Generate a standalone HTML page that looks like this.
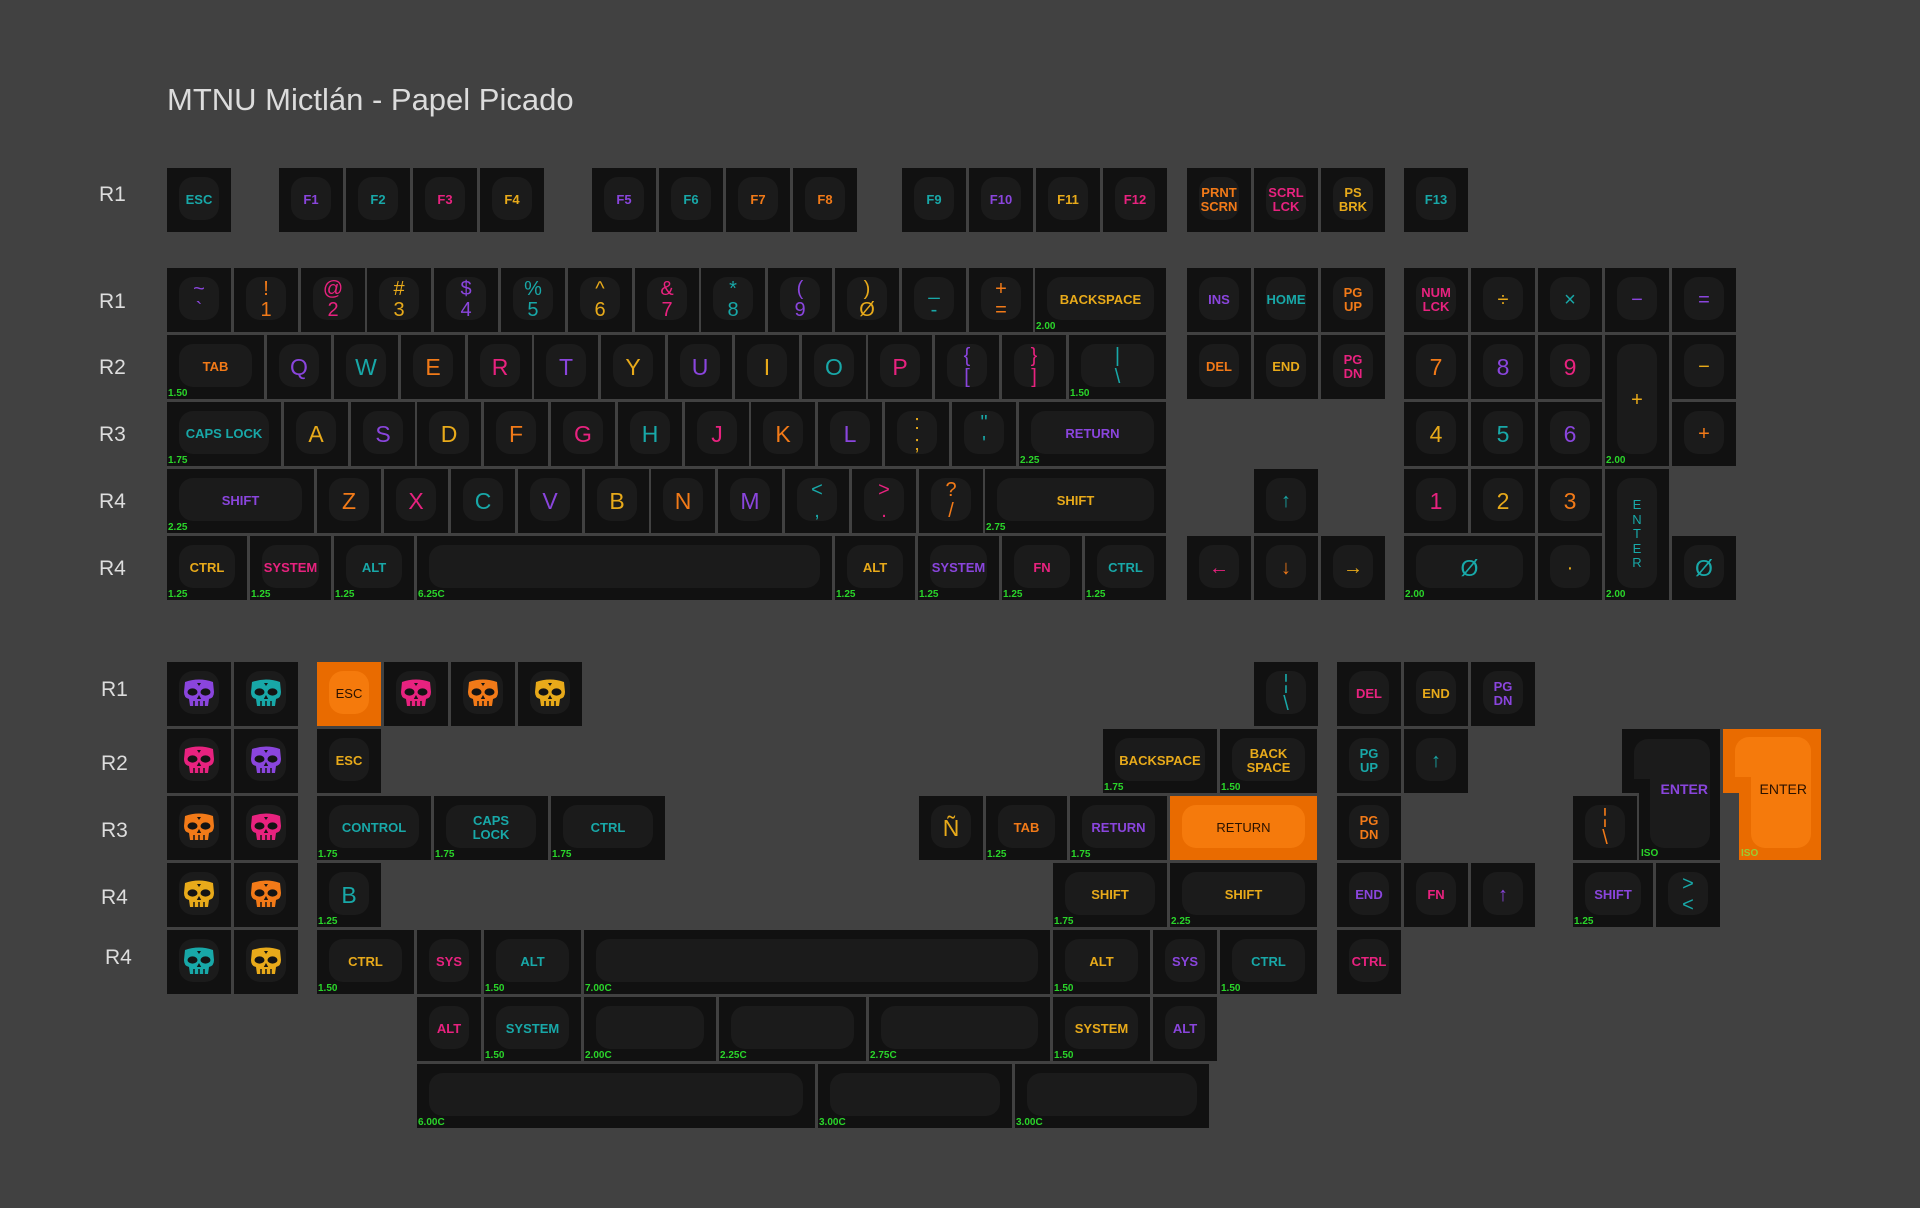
<!DOCTYPE html>
<html><head><meta charset="utf-8"><style>
body{margin:0;width:1920px;height:1208px;background:#414141;position:relative;overflow:hidden;font-family:"Liberation Sans",sans-serif}
.k{position:absolute;width:64px;height:64px;background:#111;display:flex;align-items:center;justify-content:center;text-align:center;font-size:13px;font-weight:bold;line-height:1.05}
.k::before{content:"";position:absolute;left:12px;right:12px;top:9px;bottom:12px;background:#1b1b1b;border-radius:14px}
.k b{position:relative;font-weight:inherit}
.k i{position:absolute;left:1px;bottom:0;font-style:normal;font-size:10px;color:#2ad52a;font-weight:bold;line-height:1}
.L{font-size:23px;font-weight:normal}
.N{font-size:20px;font-weight:normal;line-height:1.05}
.T{color:#18a8a8}.P{color:#8a45dd}.K{color:#e8227f}.O{color:#f27a18}.Y{color:#e8aa1a}
.OB{background:#e96b00;color:#2a1200;font-weight:normal}.OB::before{background:#f57a0c}
.h{height:131px}
.lab{position:absolute;color:#ddd;font-size:21px;transform:translateY(-50%)}
.sk{position:relative}
</style></head><body>
<svg width="0" height="0" style="position:absolute"><symbol id="s" viewBox="0 0 36 32"><path fill="currentColor" d="M4 4 Q18 -1 32 4 L33 14 Q33 20 28 21 L27 28 L9 28 L8 21 Q3 20 3 14 Z"/><ellipse cx="11.5" cy="14" rx="5" ry="3.6" fill="#141414"/><ellipse cx="24.5" cy="14" rx="5" ry="3.6" fill="#141414"/><path d="M18 17 l-2.2 4 h4.4z" fill="#141414"/><path d="M13 23v5M18 23v5M23 23v5" stroke="#141414" stroke-width="1.5"/><path d="M16 5h4l-2 3z" fill="#141414"/></symbol></svg>
<div style="position:absolute;left:167px;top:82px;font-size:31px;color:#dcdcdc">MTNU Mictlán - Papel Picado</div>

<div class="lab" style="left:99px;top:195px">R1</div>
<div class="lab" style="left:99px;top:302px">R1</div>
<div class="lab" style="left:99px;top:368px">R2</div>
<div class="lab" style="left:99px;top:435px">R3</div>
<div class="lab" style="left:99px;top:502px">R4</div>
<div class="lab" style="left:99px;top:569px">R4</div>
<div class="lab" style="left:101px;top:690px">R1</div>
<div class="lab" style="left:101px;top:764px">R2</div>
<div class="lab" style="left:101px;top:831px">R3</div>
<div class="lab" style="left:101px;top:898px">R4</div>
<div class="lab" style="left:105px;top:958px">R4</div>

<!-- Fn row -->
<div class="k T" style="left:167px;top:168px"><b>ESC</b></div>
<div class="k P" style="left:279px;top:168px"><b>F1</b></div>
<div class="k T" style="left:346px;top:168px"><b>F2</b></div>
<div class="k K" style="left:413px;top:168px"><b>F3</b></div>
<div class="k Y" style="left:480px;top:168px"><b>F4</b></div>
<div class="k P" style="left:592px;top:168px"><b>F5</b></div>
<div class="k T" style="left:659px;top:168px"><b>F6</b></div>
<div class="k O" style="left:726px;top:168px"><b>F7</b></div>
<div class="k O" style="left:793px;top:168px"><b>F8</b></div>
<div class="k T" style="left:902px;top:168px"><b>F9</b></div>
<div class="k P" style="left:969px;top:168px"><b>F10</b></div>
<div class="k Y" style="left:1036px;top:168px"><b>F11</b></div>
<div class="k K" style="left:1103px;top:168px"><b>F12</b></div>
<div class="k O" style="left:1187px;top:168px"><b>PRNT<br>SCRN</b></div>
<div class="k K" style="left:1254px;top:168px"><b>SCRL<br>LCK</b></div>
<div class="k Y" style="left:1321px;top:168px"><b>PS<br>BRK</b></div>
<div class="k T" style="left:1404px;top:168px"><b>F13</b></div>

<!-- Number row -->
<div class="k P N" style="left:167px;top:268px"><b>~<br>`</b></div>
<div class="k O N" style="left:234px;top:268px"><b>!<br>1</b></div>
<div class="k K N" style="left:301px;top:268px"><b>@<br>2</b></div>
<div class="k Y N" style="left:367px;top:268px"><b>#<br>3</b></div>
<div class="k P N" style="left:434px;top:268px"><b>$<br>4</b></div>
<div class="k T N" style="left:501px;top:268px"><b>%<br>5</b></div>
<div class="k Y N" style="left:568px;top:268px"><b>^<br>6</b></div>
<div class="k K N" style="left:635px;top:268px"><b>&amp;<br>7</b></div>
<div class="k T N" style="left:701px;top:268px"><b>*<br>8</b></div>
<div class="k P N" style="left:768px;top:268px"><b>(<br>9</b></div>
<div class="k Y N" style="left:835px;top:268px"><b>)<br>Ø</b></div>
<div class="k T N" style="left:902px;top:268px"><b>_<br>-</b></div>
<div class="k O N" style="left:969px;top:268px"><b>+<br>=</b></div>
<div class="k Y" style="left:1035px;top:268px;width:131px"><b>BACKSPACE</b><i>2.00</i></div>

<!-- Tab row -->
<div class="k O" style="left:167px;top:335px;width:97px"><b>TAB</b><i>1.50</i></div>
<div class="k P L" style="left:267px;top:335px"><b>Q</b></div>
<div class="k T L" style="left:334px;top:335px"><b>W</b></div>
<div class="k O L" style="left:401px;top:335px"><b>E</b></div>
<div class="k K L" style="left:468px;top:335px"><b>R</b></div>
<div class="k P L" style="left:534px;top:335px"><b>T</b></div>
<div class="k Y L" style="left:601px;top:335px"><b>Y</b></div>
<div class="k P L" style="left:668px;top:335px"><b>U</b></div>
<div class="k Y L" style="left:735px;top:335px"><b>I</b></div>
<div class="k T L" style="left:802px;top:335px"><b>O</b></div>
<div class="k K L" style="left:868px;top:335px"><b>P</b></div>
<div class="k P N" style="left:935px;top:335px"><b>{<br>[</b></div>
<div class="k K N" style="left:1002px;top:335px"><b>}<br>]</b></div>
<div class="k T N" style="left:1069px;top:335px;width:97px"><b>|<br>\</b><i>1.50</i></div>

<!-- Caps row -->
<div class="k T" style="left:167px;top:402px;width:114px"><b>CAPS LOCK</b><i>1.75</i></div>
<div class="k Y L" style="left:284px;top:402px"><b>A</b></div>
<div class="k P L" style="left:351px;top:402px"><b>S</b></div>
<div class="k Y L" style="left:417px;top:402px"><b>D</b></div>
<div class="k O L" style="left:484px;top:402px"><b>F</b></div>
<div class="k K L" style="left:551px;top:402px"><b>G</b></div>
<div class="k T L" style="left:618px;top:402px"><b>H</b></div>
<div class="k K L" style="left:685px;top:402px"><b>J</b></div>
<div class="k O L" style="left:751px;top:402px"><b>K</b></div>
<div class="k P L" style="left:818px;top:402px"><b>L</b></div>
<div class="k Y N" style="left:885px;top:402px"><b>:<br>;</b></div>
<div class="k T N" style="left:952px;top:402px"><b>"<br>'</b></div>
<div class="k P" style="left:1019px;top:402px;width:147px"><b>RETURN</b><i>2.25</i></div>

<!-- Shift row -->
<div class="k P" style="left:167px;top:469px;width:147px"><b>SHIFT</b><i>2.25</i></div>
<div class="k O L" style="left:317px;top:469px"><b>Z</b></div>
<div class="k K L" style="left:384px;top:469px"><b>X</b></div>
<div class="k T L" style="left:451px;top:469px"><b>C</b></div>
<div class="k P L" style="left:518px;top:469px"><b>V</b></div>
<div class="k Y L" style="left:585px;top:469px"><b>B</b></div>
<div class="k O L" style="left:651px;top:469px"><b>N</b></div>
<div class="k P L" style="left:718px;top:469px"><b>M</b></div>
<div class="k T N" style="left:785px;top:469px"><b>&lt;<br>,</b></div>
<div class="k K N" style="left:852px;top:469px"><b>&gt;<br>.</b></div>
<div class="k O N" style="left:919px;top:469px"><b>?<br>/</b></div>
<div class="k Y" style="left:985px;top:469px;width:181px"><b>SHIFT</b><i>2.75</i></div>

<!-- Bottom row -->
<div class="k Y" style="left:167px;top:536px;width:80px"><b>CTRL</b><i>1.25</i></div>
<div class="k K" style="left:250px;top:536px;width:81px"><b>SYSTEM</b><i>1.25</i></div>
<div class="k T" style="left:334px;top:536px;width:80px"><b>ALT</b><i>1.25</i></div>
<div class="k" style="left:417px;top:536px;width:415px"><i>6.25C</i></div>
<div class="k Y" style="left:835px;top:536px;width:80px"><b>ALT</b><i>1.25</i></div>
<div class="k P" style="left:918px;top:536px;width:81px"><b>SYSTEM</b><i>1.25</i></div>
<div class="k K" style="left:1002px;top:536px;width:80px"><b>FN</b><i>1.25</i></div>
<div class="k T" style="left:1085px;top:536px;width:81px"><b>CTRL</b><i>1.25</i></div>

<!-- Nav -->
<div class="k P" style="left:1187px;top:268px"><b>INS</b></div>
<div class="k T" style="left:1254px;top:268px"><b>HOME</b></div>
<div class="k O" style="left:1321px;top:268px"><b>PG<br>UP</b></div>
<div class="k O" style="left:1187px;top:335px"><b>DEL</b></div>
<div class="k Y" style="left:1254px;top:335px"><b>END</b></div>
<div class="k K" style="left:1321px;top:335px"><b>PG<br>DN</b></div>
<div class="k T N" style="left:1254px;top:469px"><b>↑</b></div>
<div class="k K N" style="left:1187px;top:536px"><b>←</b></div>
<div class="k O N" style="left:1254px;top:536px"><b>↓</b></div>
<div class="k Y N" style="left:1321px;top:536px"><b>→</b></div>

<!-- Numpad -->
<div class="k K" style="left:1404px;top:268px"><b>NUM<br>LCK</b></div>
<div class="k Y N" style="left:1471px;top:268px"><b>÷</b></div>
<div class="k T N" style="left:1538px;top:268px"><b>×</b></div>
<div class="k P N" style="left:1605px;top:268px"><b>−</b></div>
<div class="k P N" style="left:1672px;top:268px"><b>=</b></div>
<div class="k O L" style="left:1404px;top:335px"><b>7</b></div>
<div class="k P L" style="left:1471px;top:335px"><b>8</b></div>
<div class="k K L" style="left:1538px;top:335px"><b>9</b></div>
<div class="k Y N h" style="left:1605px;top:335px"><b>+</b><i>2.00</i></div>
<div class="k Y N" style="left:1672px;top:335px"><b>−</b></div>
<div class="k Y L" style="left:1404px;top:402px"><b>4</b></div>
<div class="k T L" style="left:1471px;top:402px"><b>5</b></div>
<div class="k P L" style="left:1538px;top:402px"><b>6</b></div>
<div class="k O N" style="left:1672px;top:402px"><b>+</b></div>
<div class="k K L" style="left:1404px;top:469px"><b>1</b></div>
<div class="k Y L" style="left:1471px;top:469px"><b>2</b></div>
<div class="k O L" style="left:1538px;top:469px"><b>3</b></div>
<div class="k T h" style="left:1605px;top:469px;font-weight:normal;line-height:1.12"><b>E<br>N<br>T<br>E<br>R</b><i>2.00</i></div>
<div class="k T L" style="left:1404px;top:536px;width:131px"><b>Ø</b><i>2.00</i></div>
<div class="k Y N" style="left:1538px;top:536px"><b>·</b></div>
<div class="k T L" style="left:1672px;top:536px"><b>Ø</b></div>

<!-- Lower: skulls -->
<div class="k P" style="left:167px;top:662px"><svg class="sk" width="36" height="32"><use href="#s"/></svg></div>
<div class="k T" style="left:234px;top:662px"><svg class="sk" width="36" height="32"><use href="#s"/></svg></div>
<div class="k K" style="left:167px;top:729px"><svg class="sk" width="36" height="32"><use href="#s"/></svg></div>
<div class="k P" style="left:234px;top:729px"><svg class="sk" width="36" height="32"><use href="#s"/></svg></div>
<div class="k O" style="left:167px;top:796px"><svg class="sk" width="36" height="32"><use href="#s"/></svg></div>
<div class="k K" style="left:234px;top:796px"><svg class="sk" width="36" height="32"><use href="#s"/></svg></div>
<div class="k Y" style="left:167px;top:863px"><svg class="sk" width="36" height="32"><use href="#s"/></svg></div>
<div class="k O" style="left:234px;top:863px"><svg class="sk" width="36" height="32"><use href="#s"/></svg></div>
<div class="k T" style="left:167px;top:930px"><svg class="sk" width="36" height="32"><use href="#s"/></svg></div>
<div class="k Y" style="left:234px;top:930px"><svg class="sk" width="36" height="32"><use href="#s"/></svg></div>

<div class="k OB" style="left:317px;top:662px"><b>ESC</b></div>
<div class="k K" style="left:384px;top:662px"><svg class="sk" width="36" height="32"><use href="#s"/></svg></div>
<div class="k O" style="left:451px;top:662px"><svg class="sk" width="36" height="32"><use href="#s"/></svg></div>
<div class="k Y" style="left:518px;top:662px"><svg class="sk" width="36" height="32"><use href="#s"/></svg></div>
<div class="k Y" style="left:317px;top:729px"><b>ESC</b></div>
<div class="k T" style="left:317px;top:796px;width:114px"><b>CONTROL</b><i>1.75</i></div>
<div class="k T" style="left:434px;top:796px;width:114px"><b>CAPS<br>LOCK</b><i>1.75</i></div>
<div class="k T" style="left:551px;top:796px;width:114px"><b>CTRL</b><i>1.75</i></div>
<div class="k T L" style="left:317px;top:863px"><b>B</b><i>1.25</i></div>

<div class="k Y" style="left:317px;top:930px;width:97px"><b>CTRL</b><i>1.50</i></div>
<div class="k K" style="left:417px;top:930px"><b>SYS</b></div>
<div class="k T" style="left:484px;top:930px;width:97px"><b>ALT</b><i>1.50</i></div>
<div class="k" style="left:584px;top:930px;width:466px"><i>7.00C</i></div>
<div class="k Y" style="left:1053px;top:930px;width:97px"><b>ALT</b><i>1.50</i></div>
<div class="k P" style="left:1153px;top:930px"><b>SYS</b></div>
<div class="k T" style="left:1220px;top:930px;width:97px"><b>CTRL</b><i>1.50</i></div>
<div class="k K" style="left:1337px;top:930px"><b>CTRL</b></div>

<div class="k K" style="left:417px;top:997px"><b>ALT</b></div>
<div class="k T" style="left:484px;top:997px;width:97px"><b>SYSTEM</b><i>1.50</i></div>
<div class="k" style="left:584px;top:997px;width:132px"><i>2.00C</i></div>
<div class="k" style="left:719px;top:997px;width:147px"><i>2.25C</i></div>
<div class="k" style="left:869px;top:997px;width:181px"><i>2.75C</i></div>
<div class="k Y" style="left:1053px;top:997px;width:97px"><b>SYSTEM</b><i>1.50</i></div>
<div class="k P" style="left:1153px;top:997px"><b>ALT</b></div>

<div class="k" style="left:417px;top:1064px;width:398px"><i>6.00C</i></div>
<div class="k" style="left:818px;top:1064px;width:194px"><i>3.00C</i></div>
<div class="k" style="left:1015px;top:1064px;width:194px"><i>3.00C</i></div>

<!-- lower right -->
<div class="k T N" style="left:1254px;top:662px"><b>¦<br>\</b></div>
<div class="k K" style="left:1337px;top:662px"><b>DEL</b></div>
<div class="k Y" style="left:1404px;top:662px"><b>END</b></div>
<div class="k P" style="left:1471px;top:662px"><b>PG<br>DN</b></div>
<div class="k Y" style="left:1103px;top:729px;width:114px"><b>BACKSPACE</b><i>1.75</i></div>
<div class="k Y" style="left:1220px;top:729px;width:97px"><b>BACK<br>SPACE</b><i>1.50</i></div>
<div class="k T" style="left:1337px;top:729px"><b>PG<br>UP</b></div>
<div class="k T N" style="left:1404px;top:729px"><b>↑</b></div>
<div class="k Y L" style="left:919px;top:796px"><b>Ñ</b></div>
<div class="k O" style="left:986px;top:796px;width:81px"><b>TAB</b><i>1.25</i></div>
<div class="k P" style="left:1070px;top:796px;width:97px"><b>RETURN</b><i>1.75</i></div>
<div class="k OB" style="left:1170px;top:796px;width:147px"><b>RETURN</b></div>
<div class="k O" style="left:1337px;top:796px"><b>PG<br>DN</b></div>
<div class="k Y" style="left:1053px;top:863px;width:114px"><b>SHIFT</b><i>1.75</i></div>
<div class="k Y" style="left:1170px;top:863px;width:147px"><b>SHIFT</b><i>2.25</i></div>
<div class="k P" style="left:1337px;top:863px"><b>END</b></div>
<div class="k K" style="left:1404px;top:863px"><b>FN</b></div>
<div class="k P N" style="left:1471px;top:863px"><b>↑</b></div>

<!-- ISO enters -->
<div style="position:absolute;left:1622px;top:729px;width:98px;height:64px;background:#111"></div>
<div style="position:absolute;left:1639px;top:729px;width:81px;height:131px;background:#111"></div>
<div style="position:absolute;left:1634px;top:739px;width:76px;height:40px;background:#1b1b1b;border-radius:14px 14px 0 0"></div>
<div style="position:absolute;left:1650px;top:760px;width:60px;height:88px;background:#1b1b1b;border-radius:0 0 14px 14px"></div>
<div style="position:absolute;left:1622px;top:781px;width:98px;text-align:right;font-size:14px;color:#8a45dd;font-weight:bold"><span style="margin-right:12px">ENTER</span></div>
<div style="position:absolute;left:1641px;top:848px;font-size:10px;color:#2ad52a;font-weight:bold">ISO</div>

<div style="position:absolute;left:1723px;top:729px;width:98px;height:64px;background:#e96b00"></div>
<div style="position:absolute;left:1739px;top:729px;width:82px;height:131px;background:#e96b00"></div>
<div style="position:absolute;left:1735px;top:737px;width:76px;height:40px;background:#f57a0c;border-radius:14px 14px 0 0"></div>
<div style="position:absolute;left:1751px;top:760px;width:60px;height:88px;background:#f57a0c;border-radius:0 0 14px 14px"></div>
<div style="position:absolute;left:1723px;top:781px;width:98px;text-align:right;font-size:14px;color:#2a1200"><span style="margin-right:14px">ENTER</span></div>
<div style="position:absolute;left:1741px;top:848px;font-size:10px;color:#9acd32;font-weight:bold">ISO</div>

<div class="k O N" style="left:1573px;top:796px"><b>¦<br>\</b></div>
<div class="k P" style="left:1573px;top:863px;width:80px"><b>SHIFT</b><i>1.25</i></div>
<div class="k T N" style="left:1656px;top:863px"><b>&gt;<br>&lt;</b></div>
</body></html>
